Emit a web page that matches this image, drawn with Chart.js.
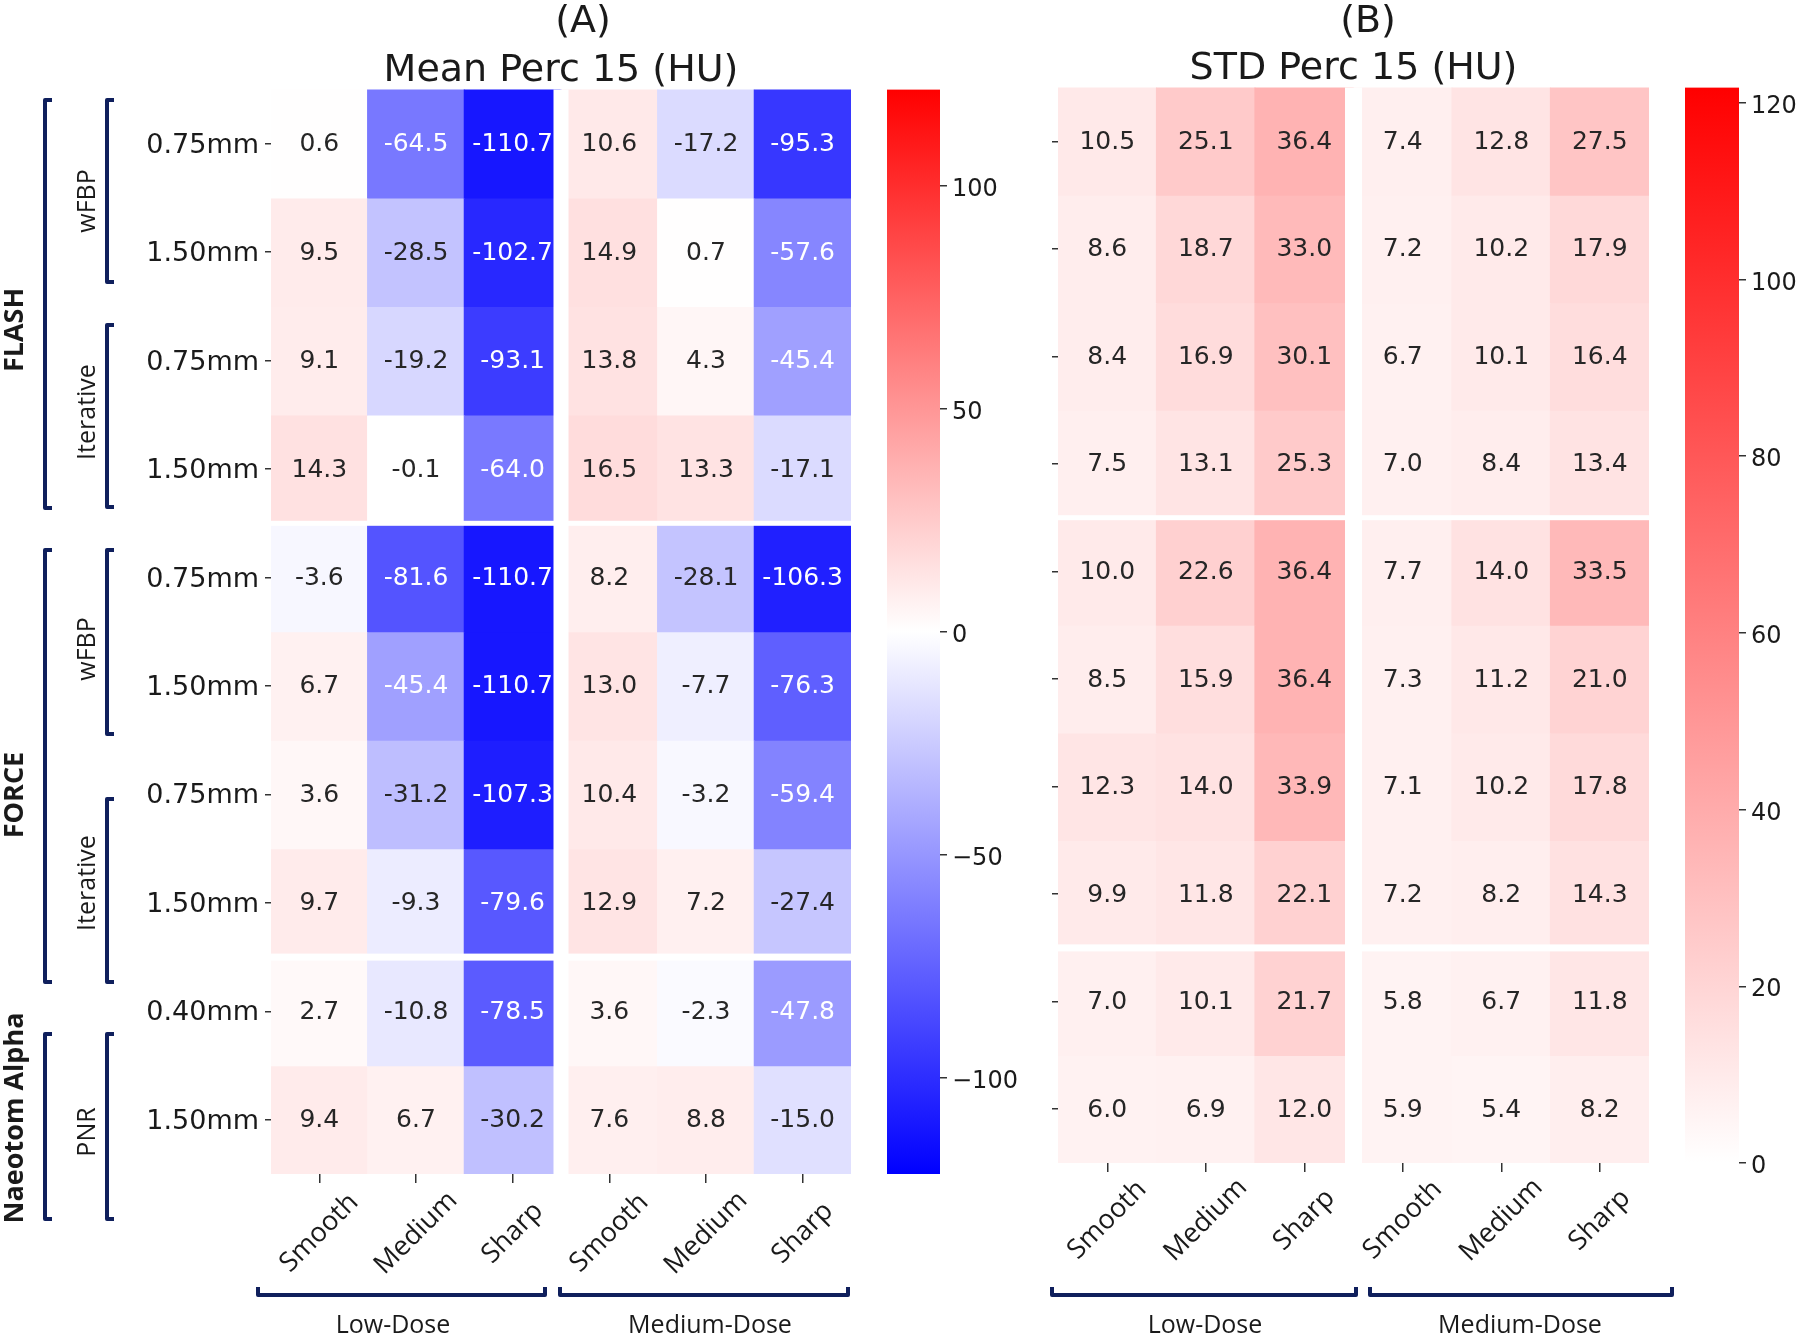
<!DOCTYPE html>
<html>
<head>
<meta charset="utf-8">
<script src="https://cdn.jsdelivr.net/npm/chart.js@4.4.1/dist/chart.umd.min.js"></script>
<style>
  body { margin: 0; background: #fff; }
  #wrap { position: relative; width: 1800px; height: 1338px; overflow: hidden; }
  canvas { position: absolute; top: 0; }
</style>
</head>
<body>
<div id="wrap">
  <canvas id="heatA" width="880" height="1338" style="left:0"></canvas>
  <canvas id="heatB" width="800" height="1338" style="left:900px"></canvas>
  <canvas id="barA" width="160" height="1338" style="left:860px"></canvas>
  <canvas id="barB" width="140" height="1338" style="left:1660px"></canvas>
</div>
<script>
// kernels, two dose groups of three columns
const kernels = ['Smooth', 'Medium', 'Sharp', 'Smooth', 'Medium', 'Sharp'];
const doseGroups = ['Low-Dose', 'Medium-Dose'];
const sliceLabels = ['0.75mm', '1.50mm', '0.75mm', '1.50mm', '0.75mm', '1.50mm', '0.75mm', '1.50mm', '0.40mm', '1.50mm'];
const scanners = ['FLASH', 'FORCE', 'Naeotom Alpha'];
const recons = ['wFBP', 'Iterative', 'wFBP', 'Iterative', 'PNR'];

// (A) Mean Perc 15 (HU), one row per slice label
const meanPerc15 = [
  [0.6, -64.5, -110.7, 10.6, -17.2, -95.3],
  [9.5, -28.5, -102.7, 14.9, 0.7, -57.6],
  [9.1, -19.2, -93.1, 13.8, 4.3, -45.4],
  [14.3, -0.1, -64.0, 16.5, 13.3, -17.1],
  [-3.6, -81.6, -110.7, 8.2, -28.1, -106.3],
  [6.7, -45.4, -110.7, 13.0, -7.7, -76.3],
  [3.6, -31.2, -107.3, 10.4, -3.2, -59.4],
  [9.7, -9.3, -79.6, 12.9, 7.2, -27.4],
  [2.7, -10.8, -78.5, 3.6, -2.3, -47.8],
  [9.4, 6.7, -30.2, 7.6, 8.8, -15.0]
];

// (B) STD Perc 15 (HU)
const stdPerc15 = [
  [10.5, 25.1, 36.4, 7.4, 12.8, 27.5],
  [8.6, 18.7, 33.0, 7.2, 10.2, 17.9],
  [8.4, 16.9, 30.1, 6.7, 10.1, 16.4],
  [7.5, 13.1, 25.3, 7.0, 8.4, 13.4],
  [10.0, 22.6, 36.4, 7.7, 14.0, 33.5],
  [8.5, 15.9, 36.4, 7.3, 11.2, 21.0],
  [12.3, 14.0, 33.9, 7.1, 10.2, 17.8],
  [9.9, 11.8, 22.1, 7.2, 8.2, 14.3],
  [7.0, 10.1, 21.7, 5.8, 6.7, 11.8],
  [6.0, 6.9, 12.0, 5.9, 5.4, 8.2]
];

const meanTicks = [-100, -50, 0, 50, 100];
const stdTicks = [0, 20, 40, 60, 80, 100, 120];
const colorMax = 121.7;

const NAVY = '#0f1f5c';
const INK = '#1a1a1a';

// matplotlib bwr, centred on 0
function bwr(v) {
  const t = (v + colorMax) / (2 * colorMax);
  return t < 0.5 ? [2 * t, 2 * t, 1] : [1, 2 - 2 * t, 2 - 2 * t];
}
function whiteRed(v) {
  const t = Math.min(Math.max(v / colorMax, 0), 1);
  return [1, 1 - t, 1 - t];
}
const rgb = c => 'rgb(' + c.map(x => Math.round(x * 255)).join(',') + ')';
// seaborn picks dark or white annotation text by luminance
function annotColor(c) {
  const lin = c.map(x => x <= 0.03928 ? x / 12.92 : Math.pow((x + 0.055) / 1.055, 2.4));
  const lum = 0.2126 * lin[0] + 0.7152 * lin[1] + 0.0722 * lin[2];
  return lum > 0.408 ? '#262626' : '#ffffff';
}
const fmtTick = v => v < 0 ? '\u2212' + Math.abs(v) : String(v);

const cellText = {
  id: 'cellText',
  afterDatasetsDraw(chart) {
    const ctx = chart.ctx;
    ctx.save();
    ctx.font = '25px "DejaVu Sans"';
    ctx.textAlign = 'center';
    ctx.textBaseline = 'middle';
    chart.data.datasets.forEach((ds, r) => {
      chart.getDatasetMeta(r).data.forEach((bar, c) => {
        ctx.fillStyle = ds.textColors[c];
        ctx.fillText(ds.values[c].toFixed(1), bar.x, (bar.y + bar.base) / 2 + 1);
      });
    });
    ctx.restore();
  }
};

// white separators between dose groups and scanner groups
function gapLines(vWidth, hWidths) {
  return {
    id: 'gapLines',
    afterDatasetsDraw(chart) {
      const {ctx, chartArea: a, scales: {x, y}} = chart;
      ctx.save();
      ctx.fillStyle = '#fff';
      const xm = (x.getPixelForValue(2) + x.getPixelForValue(3)) / 2;
      ctx.fillRect(xm - vWidth / 2, a.top, vWidth, a.bottom - a.top);
      [4, 8].forEach((r, i) => {
        const ym = y.getPixelForValue(r);
        ctx.fillRect(a.left, ym - hWidths[i] / 2, a.right - a.left, hWidths[i]);
      });
      ctx.restore();
    }
  };
}

function bracketH(ctx, x1, x2, y, serif) {
  ctx.beginPath();
  ctx.moveTo(x1, y - serif);
  ctx.lineTo(x1, y);
  ctx.lineTo(x2, y);
  ctx.lineTo(x2, y - serif);
  ctx.stroke();
}
function bracketV(ctx, x, y1, y2, serif) {
  ctx.beginPath();
  ctx.moveTo(x + serif, y1);
  ctx.lineTo(x, y1);
  ctx.lineTo(x, y2);
  ctx.lineTo(x + serif, y2);
  ctx.stroke();
}
function rotText(ctx, text, x, y) {
  ctx.save();
  ctx.translate(x, y);
  ctx.rotate(-Math.PI / 2);
  ctx.fillText(text, 0, 0);
  ctx.restore();
}

function decor(cfg) {
  return {
    id: 'decor',
    afterDraw(chart) {
      const {ctx, chartArea: a, scales: {x}} = chart;
      ctx.save();
      ctx.fillStyle = INK;
      // titles
      ctx.textAlign = 'center';
      ctx.textBaseline = 'alphabetic';
      ctx.font = '38px "DejaVu Sans"';
      ctx.fillText(cfg.panel, cfg.panelX, 32);
      ctx.fillText(cfg.title, (a.left + a.right) / 2, cfg.titleY);
      // rotated kernel labels
      ctx.font = '27px "Open Sans"';
      ctx.textBaseline = 'middle';
      kernels.forEach((k, i) => {
        ctx.save();
        ctx.translate(x.getPixelForTick(i), a.bottom + cfg.kernelDy);
        ctx.rotate(-Math.PI / 4);
        ctx.fillText(k, 0, 0);
        ctx.restore();
      });
      // dose brackets
      ctx.strokeStyle = NAVY;
      ctx.lineWidth = 4;
      ctx.lineJoin = 'round';
      ctx.font = '25px "Open Sans"';
      ctx.textBaseline = 'alphabetic';
      cfg.dose.forEach((d, i) => {
        bracketH(ctx, d[0], d[1], 1295, 8);
        ctx.fillText(doseGroups[i], d[2], 1333);
      });
      if (cfg.groups) {
        ctx.textBaseline = 'middle';
        ctx.font = 'bold 27px "Open Sans"';
        cfg.groups.outer.forEach((g, i) => {
          bracketV(ctx, 45, g[0], g[1], 7);
          rotText(ctx, scanners[i], 15, g[2]);
        });
        ctx.font = '25px "Open Sans"';
        cfg.groups.inner.forEach((g, i) => {
          bracketV(ctx, 107, g[0], g[1], 7);
          rotText(ctx, recons[i], 88, g[2]);
        });
      }
      ctx.restore();
    }
  };
}

function heatmap(id, values, cmap, cfg) {
  return new Chart(document.getElementById(id), {
    type: 'bar',
    data: {
      labels: kernels,
      datasets: values.map((row, r) => ({
        label: sliceLabels[r],
        data: row.map(() => [r, r + 1]),
        values: row,
        textColors: row.map(v => annotColor(cmap(v))),
        backgroundColor: row.map(v => rgb(cmap(v))),
        borderWidth: 0,
        barPercentage: 1,
        categoryPercentage: 1,
        inflateAmount: 0.6
      }))
    },
    options: {
      responsive: false,
      animation: false,
      layout: { padding: cfg.padding },
      plugins: { legend: { display: false }, tooltip: { enabled: false } },
      scales: {
        x: {
          stacked: true,
          grid: { offset: false, drawOnChartArea: false, drawTicks: true, tickLength: 9, color: '#333', lineWidth: 1.5 },
          border: { display: false },
          ticks: { display: false },
          afterFit: s => { s.height = cfg.xAxisHeight; }
        },
        y: {
          type: 'linear',
          min: 0,
          max: 10,
          reverse: true,
          stacked: false,
          grid: { drawOnChartArea: false, drawTicks: true, tickLength: 6, color: '#333', lineWidth: 1.5 },
          border: { display: false },
          afterBuildTicks: s => { s.ticks = sliceLabels.map((_, i) => ({ value: i + 0.5 })); },
          ticks: {
            autoSkip: false,
            padding: 6,
            labelOffset: 2,
            color: INK,
            font: { family: 'DejaVu Sans', size: 27 },
            callback: (v, i) => cfg.rowLabels ? sliceLabels[i] : ''
          },
          afterFit: s => { s.width = cfg.yAxisWidth; }
        }
      }
    },
    plugins: [cellText, gapLines(cfg.vGap, [5, 7]), decor(cfg)]
  });
}

function colorbar(id, min, max, ticks, stops, cfg) {
  return new Chart(document.getElementById(id), {
    type: 'bar',
    data: {
      labels: [''],
      datasets: [{
        data: [[min, max]],
        borderWidth: 0,
        barPercentage: 1,
        categoryPercentage: 1,
        backgroundColor: c => {
          const y = c.chart.scales.y;
          if (!y || !c.chart.chartArea) return 'transparent';
          const y0 = y.getPixelForValue(min);
          const y1 = y.getPixelForValue(max);
          if (!isFinite(y0) || !isFinite(y1)) return 'transparent';
          const g = c.chart.ctx.createLinearGradient(0, y0, 0, y1);
          stops.forEach(s => g.addColorStop(s[0], s[1]));
          return g;
        }
      }]
    },
    options: {
      responsive: false,
      animation: false,
      layout: { padding: cfg.padding },
      plugins: { legend: { display: false }, tooltip: { enabled: false } },
      scales: {
        x: { display: false },
        y: {
          position: 'right',
          min: min,
          max: max,
          grid: { drawOnChartArea: false, drawTicks: true, tickLength: 7, color: '#333', lineWidth: 1.5 },
          border: { display: false },
          afterBuildTicks: s => { s.ticks = ticks.map(v => ({ value: v })); },
          ticks: {
            autoSkip: false,
            padding: 5,
            labelOffset: 4,
            color: INK,
            font: { family: 'DejaVu Sans', size: 24 },
            callback: v => fmtTick(v)
          },
          afterFit: s => { s.width = cfg.axisWidth; }
        }
      }
    }
  });
}

heatmap('heatA', meanPerc15, bwr, {
  padding: { top: 89.5, right: 29, bottom: 0, left: 0 },
  xAxisHeight: 164,
  yAxisWidth: 271,
  rowLabels: true,
  vGap: 15,
  panel: '(A)', panelX: 583,
  title: 'Mean Perc 15 (HU)', titleY: 80.5,
  kernelDy: 59,
  dose: [[258, 545, 393], [560, 848, 710]],
  groups: {
    outer: [[100, 508, 330], [550, 982, 795], [1034, 1219, 1118]],
    inner: [[100, 282, 201], [325, 507, 412], [550, 734, 649], [799, 982, 883], [1034, 1219, 1132]]
  }
});

heatmap('heatB', stdPerc15, whiteRed, {
  padding: { top: 87.5, right: 51, bottom: 0, left: 0 },
  xAxisHeight: 175,
  yAxisWidth: 158,
  rowLabels: false,
  vGap: 17,
  panel: '(B)', panelX: 468,
  title: 'STD Perc 15 (HU)', titleY: 78.6,
  kernelDy: 57,
  dose: [[152, 456, 305], [470, 772, 620]]
});

colorbar('barA', -colorMax, colorMax, meanTicks,
  [[0, '#0000ff'], [0.5, '#ffffff'], [1, '#ff0000']],
  { padding: { top: 89.5, bottom: 164, left: 27, right: 0 }, axisWidth: 80 });

colorbar('barB', 0, colorMax, stdTicks,
  [[0, '#ffffff'], [1, '#ff0000']],
  { padding: { top: 87.5, bottom: 175, left: 25, right: 0 }, axisWidth: 61 });
</script>
</body>
</html>
